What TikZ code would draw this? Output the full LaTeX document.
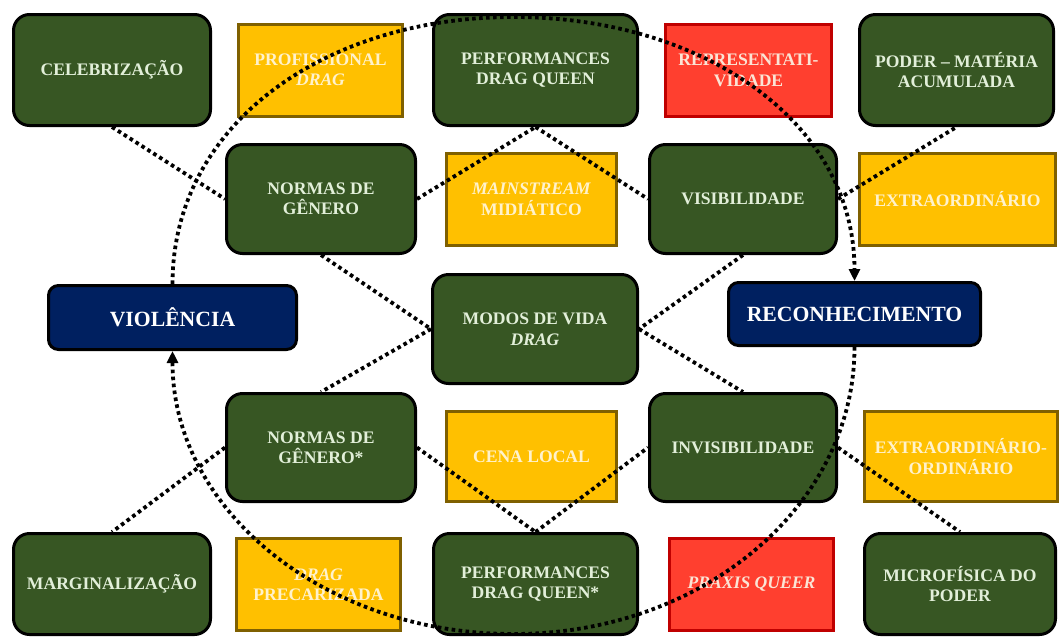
\documentclass[tikz,border=0pt]{standalone}
\usepackage{fontspec}
\setmainfont{Liberation Serif}
\usetikzlibrary{arrows.meta}

\definecolor{boxgreen}{HTML}{375623}
\definecolor{txtgreen}{HTML}{E2EFD9}
\definecolor{boxyellow}{HTML}{FFC000}
\definecolor{edgeyellow}{HTML}{7F6000}
\definecolor{txtyellow}{HTML}{FFF2CC}
\definecolor{boxred}{HTML}{FF3F2F}
\definecolor{edgered}{HTML}{C00000}
\definecolor{txtred}{HTML}{FBE4D5}
\definecolor{boxnavy}{HTML}{002060}

\begin{document}
\begin{tikzpicture}[
  x=1pt, y=-1pt,
  txt/.style={font=\fontsize{17.6}{20.5}\selectfont\bfseries, align=center, inner sep=2pt},
  gbox/.style={txt, rectangle, draw=black, fill=boxgreen, text=txtgreen, line width=3pt, rounded corners=16pt, minimum height=111pt},
  ybox/.style={txt, rectangle, draw=edgeyellow, fill=boxyellow, text=txtyellow, line width=3pt, minimum height=92pt},
  rbox/.style={ybox, draw=edgered, fill=boxred, text=txtred},
  nbox/.style={rectangle, draw=black, fill=boxnavy, text=white, line width=3pt, rounded corners=10pt, minimum height=63pt, font=\fontsize{21.7}{25}\selectfont\bfseries},
  dotline/.style={draw=black, line width=3.8pt, dash pattern=on 3.6pt off 3.4pt},
  ringarrow/.style={dotline, -{Triangle[length=12pt,width=11pt]}}
]
  \useasboundingbox (0,0) rectangle (1059,638);

  % Top row
  \node[gbox, minimum width=197pt] (celeb) at (112,70) {CELEBRIZAÇÃO};
  \node[ybox, minimum width=164pt] (prof) at (320.5,70) {PROFISSIONAL\\\textit{DRAG}};
  \node[gbox, minimum width=204pt] (perf) at (535.5,70) {PERFORMANCES\\DRAG QUEEN};
  \node[rbox, minimum width=166pt] (repres) at (748.5,70.5) {REPRESENTATI-\\VIDADE};
  \node[gbox, minimum width=194pt] (poder) at (956.5,70) {PODER – MATÉRIA\\ACUMULADA};

  % Second row
  \node[gbox, minimum width=189pt, minimum height=109pt] (normas) at (321,199) {NORMAS DE\\GÊNERO};
  \node[ybox, minimum width=170pt] (mainstr) at (531.5,199.5) {\textit{MAINSTREAM}\\MIDIÁTICO};
  \node[gbox, minimum width=187pt, minimum height=109pt] (visib) at (743,199) {VISIBILIDADE};
  \node[ybox, minimum width=196pt] (extra) at (957.5,199.5) {EXTRAORDINÁRIO};

  % Middle row
  \node[nbox, minimum width=248pt, minimum height=64pt] (viol) at (172.5,317.5) {VIOLÊNCIA};
  \node[gbox, minimum width=205pt, minimum height=109pt] (modos) at (535,329) {MODOS DE VIDA\\\textit{DRAG}};
  \node[nbox, minimum width=252pt] (recon) at (854.5,314) {RECONHECIMENTO};

  % Fourth row
  \node[gbox, minimum width=189pt, minimum height=108pt] (normasb) at (321,447.5) {NORMAS DE\\GÊNERO*};
  \node[ybox, minimum width=170pt, minimum height=90pt] (cena) at (531.5,456.5) {CENA LOCAL};
  \node[gbox, minimum width=187pt, minimum height=108pt] (invis) at (743,447.5) {INVISIBILIDADE};
  \node[ybox, minimum width=193pt, minimum height=90pt] (extraord) at (961,456.5) {EXTRAORDINÁRIO-\\ORDINÁRIO};

  % Bottom row
  \node[gbox, minimum width=197pt, minimum height=101pt] (margin) at (112,584) {MARGINALIZAÇÃO};
  \node[ybox, minimum width=164pt] (precar) at (318.5,584.5) {\textit{DRAG}\\PRECARIZADA};
  \node[gbox, minimum width=204pt, minimum height=101pt] (perfb) at (535.5,584) {PERFORMANCES\\DRAG QUEEN*};
  \node[rbox, minimum width=164pt] (praxis) at (751.5,584.5) {\textit{PRAXIS QUEER}};
  \node[gbox, minimum width=191pt, minimum height=101pt] (micro) at (960,584) {MICROFÍSICA DO\\PODER};

  % Network links
  \draw[dotline] (celeb.south) -- (normas.west);
  \draw[dotline] (normas.east) -- (perf.south);
  \draw[dotline] (perf.south) -- (visib.west);
  \draw[dotline] (visib.east) -- (poder.south);
  \draw[dotline] (normas.south) -- (modos.west);
  \draw[dotline] (visib.south) -- (modos.east);
  \draw[dotline] (modos.west) -- (normasb.north);
  \draw[dotline] (modos.east) -- (invis.north);
  \draw[dotline] (normasb.west) -- (margin.north);
  \draw[dotline] (normasb.east) -- (perfb.north);
  \draw[dotline] (perfb.north) -- (invis.west);
  \draw[dotline] (invis.east) -- (micro.north);

  % Outer ring
  \coordinate (ringtop) at (513.5,17);
  \coordinate (ringbot) at (513.5,634);
  \draw[ringarrow] (viol.north) .. controls +(0,-160) and +(-188,0) .. (ringtop)
    .. controls +(188,0) and +(0,-160) .. (recon.north);
  \draw[ringarrow] (recon.south) .. controls +(0,160) and +(188,0) .. (ringbot)
    .. controls +(-188,0) and +(0,160) .. (viol.south);

\end{tikzpicture}
\end{document}
